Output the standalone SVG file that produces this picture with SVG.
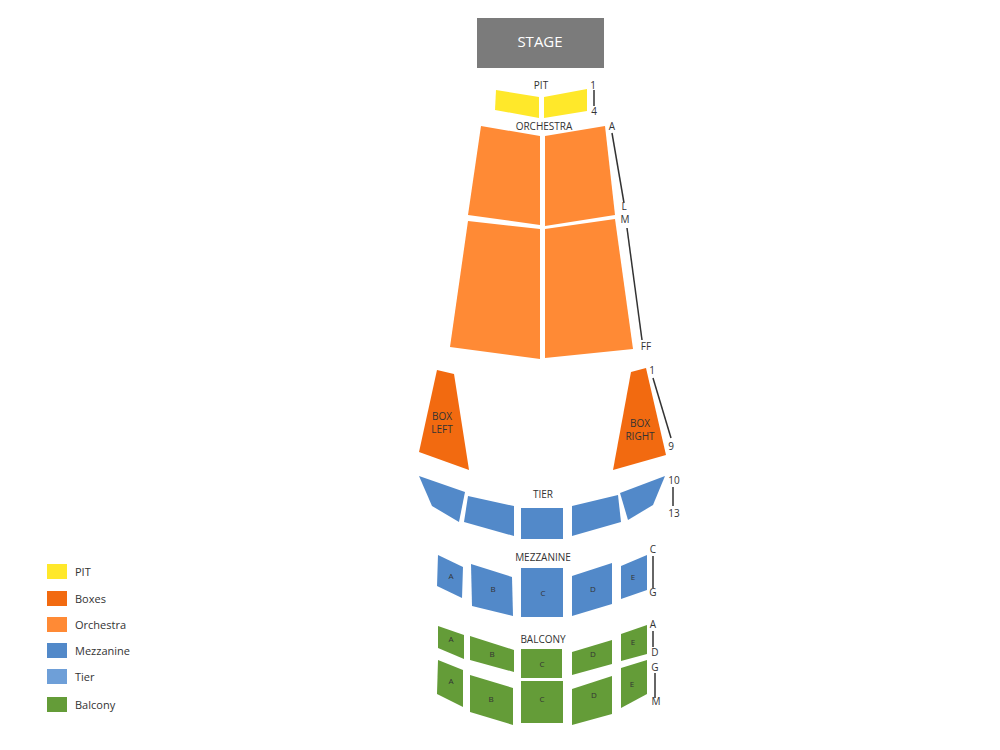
<svg xmlns="http://www.w3.org/2000/svg" width="1000" height="750" viewBox="0 0 1000 750">
<style>
text{font-family:"Open Sans","Liberation Sans",sans-serif;fill:#333;font-size:10px;text-anchor:middle}
.pit{fill:#FFE82A}.box{fill:#F26A10}.orc{fill:#FF8A35}.mez{fill:#5289C9}.tier{fill:#6E9FD8}.bal{fill:#649C38}
.s{font-size:8px}.lg{text-anchor:start;font-size:11px}
.ln{stroke:#333;stroke-width:1.5;fill:none}
</style>
<rect width="1000" height="750" fill="#fff"/>
<g id="stage"><rect x="477" y="18" width="127" height="50" fill="#7b7b7b"/><text x="540" y="47" style="fill:#fff;font-size:15px">STAGE</text></g>
<g id="pit"><polygon class="pit" points="496,90 539,97 539,118 495,110"/><polygon class="pit" points="544,97 587,89 587,111 544,118"/><text x="541" y="89">PIT</text></g>
<g id="orchestra">
<polygon class="orc" points="481,126 540,136 540,225 468,215"/>
<polygon class="orc" points="545,136 605,126 615,215 545,226"/>
<polygon class="orc" points="468,221 540,229 540,359 450,347"/>
<polygon class="orc" points="545,229 615,219 633,349 545,358"/>
<text x="544" y="130">ORCHESTRA</text></g>
<g id="box-left"><polygon class="box" points="437,370 454,374 469,470 419,452"/><text x="442" y="420">BOX</text><text x="442" y="433">LEFT</text></g>
<g id="box-right"><polygon class="box" points="631,372 646,368 666,455 613,470"/><text x="640" y="427">BOX</text><text x="640" y="440">RIGHT</text></g>
<g id="tier">
<polygon class="mez" points="419,476 465,492 459,522 432,506"/>
<polygon class="mez" points="468,496 514,506 514,536 464,522"/>
<polygon class="mez" points="521,508 563,508 563,539 521,539"/>
<polygon class="mez" points="572,506 618,495 621,522 572,536"/>
<polygon class="mez" points="620,493 665,476 653,505 628,520"/>
<text x="543" y="498">TIER</text></g>
<g id="mezzanine">
<polygon class="mez" points="438,555 463,567 462,598 437,586"/>
<polygon class="mez" points="471,564 512,577 513,616 472,606"/>
<polygon class="mez" points="521,568 563,568 563,617 521,617"/>
<polygon class="mez" points="572,576 612,563 612,604 572,616"/>
<polygon class="mez" points="621,566 647,555 647,590 621,599"/>
<text x="543" y="561">MEZZANINE</text>
<text class="s" x="451" y="579">A</text><text class="s" x="493" y="592">B</text><text class="s" x="543" y="596">C</text><text class="s" x="593" y="592">D</text><text class="s" x="633" y="580">E</text></g>
<g id="balcony">
<polygon class="bal" points="438,626 464,635 464,659 438,648"/>
<polygon class="bal" points="470,636 514,650 514,672 470,660"/>
<polygon class="bal" points="521,649 562,649 562,678 521,678"/>
<polygon class="bal" points="572,652 612,640 612,664 572,675"/>
<polygon class="bal" points="621,634 647,625 647,654 621,661"/>
<polygon class="bal" points="438,660 463,670 463,707 437,694"/>
<polygon class="bal" points="470,675 513,688 513,725 470,712"/>
<polygon class="bal" points="521,681 563,681 563,723 521,723"/>
<polygon class="bal" points="572,689 612,676 612,714 572,725"/>
<polygon class="bal" points="621,668 647,660 647,694 621,708"/>
<text x="543" y="643">BALCONY</text>
<text class="s" x="451" y="642">A</text><text class="s" x="492" y="657">B</text><text class="s" x="542" y="667">C</text><text class="s" x="593" y="657">D</text><text class="s" x="633" y="645">E</text>
<text class="s" x="451" y="684">A</text><text class="s" x="491" y="702">B</text><text class="s" x="542" y="702">C</text><text class="s" x="594" y="698">D</text><text class="s" x="632" y="687">E</text></g>
<g id="connectors">
<line class="ln" x1="594" y1="90" x2="594" y2="106"/>
<line class="ln" x1="612" y1="133" x2="624" y2="203"/>
<line class="ln" x1="627" y1="228" x2="642" y2="340"/>
<line class="ln" x1="653" y1="378" x2="671" y2="438"/>
<line class="ln" x1="673" y1="487" x2="673" y2="506"/>
<line class="ln" x1="653" y1="556" x2="653" y2="588"/>
<line class="ln" x1="653" y1="631" x2="653" y2="647"/>
<line class="ln" x1="655" y1="673" x2="655" y2="698"/>
</g>
<g id="row-labels">
<text x="593" y="89">1</text><text x="594" y="115">4</text>
<text x="612" y="130">A</text><text x="624" y="210">L</text><text x="625" y="223">M</text><text x="646" y="350">FF</text>
<text x="652" y="374">1</text><text x="671" y="450">9</text>
<text x="674" y="484">10</text><text x="674" y="517">13</text>
<text x="653" y="553">C</text><text x="653" y="596">G</text>
<text x="653" y="628">A</text><text x="655" y="656">D</text><text x="655" y="671">G</text><text x="656" y="705">M</text>
</g>
<g id="legend">
<rect class="pit" x="47" y="564" width="20" height="15"/><text class="lg" x="75" y="576">PIT</text>
<rect class="box" x="47" y="591" width="20" height="15"/><text class="lg" x="75" y="603">Boxes</text>
<rect class="orc" x="47" y="617" width="20" height="15"/><text class="lg" x="75" y="629">Orchestra</text>
<rect class="mez" x="47" y="643" width="20" height="15"/><text class="lg" x="75" y="655">Mezzanine</text>
<rect class="tier" x="47" y="669" width="20" height="15"/><text class="lg" x="75" y="681">Tier</text>
<rect class="bal" x="47" y="697" width="20" height="15"/><text class="lg" x="75" y="709">Balcony</text>
</g>
</svg>
